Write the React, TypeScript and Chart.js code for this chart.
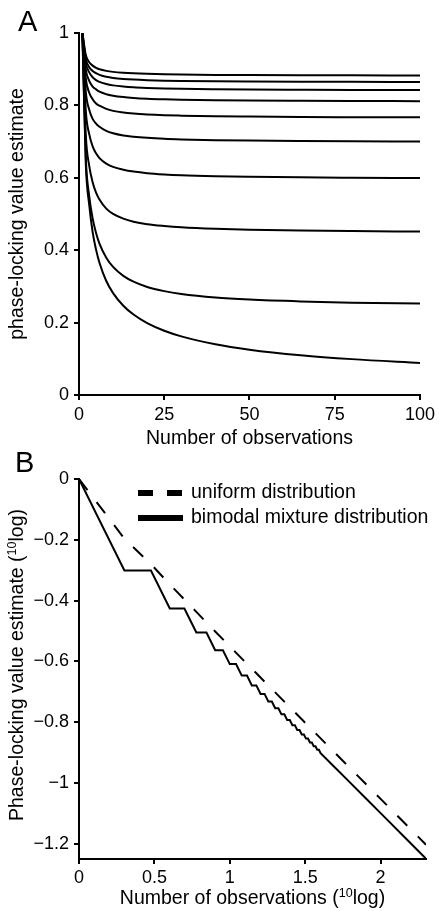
import React, { useEffect, useRef } from 'react';
import { Chart, registerables } from 'chart.js';

Chart.register(...registerables);

const FONT = '"Liberation Sans", Arial, Helvetica, sans-serif';

// ---------- Panel A: PLV estimate vs number of observations ----------
const nObs = [1, 2, 3, 4, 5, 6, 8, 10, 13, 16, 20, 25, 30, 40, 50, 65, 80, 100];
const plvK45 = [1, 0.939, 0.9194, 0.9099, 0.9037, 0.9, 0.8954, 0.8926, 0.8901, 0.8885, 0.8871, 0.886, 0.8853, 0.8843, 0.8838, 0.8833, 0.883, 0.8827];
const plvK40 = [1, 0.9286, 0.9054, 0.8953, 0.8891, 0.8842, 0.879, 0.8759, 0.8731, 0.8713, 0.8697, 0.8684, 0.8676, 0.8666, 0.866, 0.8654, 0.865, 0.8648];
const plvK35 = [1, 0.9166, 0.8914, 0.8777, 0.87, 0.8648, 0.8589, 0.8553, 0.852, 0.8499, 0.8482, 0.8467, 0.8457, 0.8446, 0.8439, 0.8433, 0.8428, 0.8425];
const plvK30 = [1, 0.899, 0.8679, 0.8522, 0.8442, 0.8378, 0.8309, 0.8267, 0.8229, 0.8205, 0.8184, 0.8168, 0.8157, 0.8143, 0.8134, 0.8127, 0.8122, 0.8117];
const plvK25 = [1, 0.8742, 0.8351, 0.8171, 0.805, 0.7992, 0.7904, 0.7849, 0.7802, 0.7774, 0.7749, 0.7729, 0.7717, 0.7699, 0.769, 0.768, 0.7675, 0.767];
const plvK20 = [1, 0.8374, 0.788, 0.7628, 0.7496, 0.741, 0.7297, 0.723, 0.7169, 0.7134, 0.7103, 0.7077, 0.7061, 0.704, 0.7027, 0.7016, 0.7009, 0.7003];
const plvK15 = [1, 0.7843, 0.7206, 0.687, 0.6676, 0.6544, 0.6392, 0.6301, 0.6224, 0.6173, 0.6128, 0.6094, 0.6071, 0.6044, 0.6028, 0.6012, 0.6003, 0.5994];
const plvK10 = [1, 0.7176, 0.633, 0.5876, 0.5588, 0.5399, 0.5147, 0.5001, 0.4871, 0.4788, 0.4719, 0.4669, 0.4633, 0.459, 0.4564, 0.4541, 0.4527, 0.4514];
const plvK05 = [1, 0.6545, 0.549, 0.4879, 0.4475, 0.4184, 0.3793, 0.3538, 0.3291, 0.313, 0.2984, 0.2869, 0.279, 0.2692, 0.2636, 0.2585, 0.2551, 0.2527];
const plvK00 = [1, 0.6366, 0.5249, 0.4498, 0.4016, 0.3655, 0.315, 0.2815, 0.2467, 0.2222, 0.1986, 0.1775, 0.162, 0.1401, 0.1253, 0.1099, 0.0991, 0.0886];
const seriesA = [plvK45, plvK40, plvK35, plvK30, plvK25, plvK20, plvK15, plvK10, plvK05, plvK00];

const xTicksA = [0, 25, 50, 75, 100];
const xTickLabelsA = ['0', '25', '50', '75', '100'];
const yTicksA = [0, 0.2, 0.4, 0.6, 0.8, 1];
const yTickLabelsA = ['0', '0.2', '0.4', '0.6', '0.8', '1'];
const xTitleA = 'Number of observations';
const yTitleA = 'phase-locking value estimate';

// ---------- Panel B: log-log ----------
const logNBimodal = [0, 0.30103, 0.47712, 0.60206, 0.69897, 0.77815, 0.8451, 0.90309, 0.95424, 1.0, 1.04139, 1.07918, 1.11394, 1.14613, 1.17609, 1.20412, 1.23045, 1.25527, 1.27875, 1.30103, 1.32222, 1.34242, 1.36173, 1.38021, 1.39794, 1.41497, 1.43136, 1.44716, 1.4624, 1.47712, 1.49136, 1.50515, 1.51851, 1.53148, 1.54407, 1.5563, 1.5682, 1.57978, 1.59106, 1.60206, 1.69897, 1.77815, 1.90309, 2.0, 2.17609, 2.30103];
const logPlvBimodal = [0, -0.30103, -0.30103, -0.42597, -0.42597, -0.50515, -0.50515, -0.56314, -0.56314, -0.6089, -0.6089, -0.6467, -0.6467, -0.67888, -0.67888, -0.70689, -0.70689, -0.73172, -0.73172, -0.754, -0.754, -0.7742, -0.7742, -0.79268, -0.79268, -0.80972, -0.80972, -0.8255, -0.8255, -0.84025, -0.84025, -0.85402, -0.85402, -0.867, -0.867, -0.87922, -0.87922, -0.89082, -0.89082, -0.90183, -0.9497, -0.98895, -1.05097, -1.09915, -1.18683, -1.24912];
const logNUniform = [0, 0.30103, 0.47712, 0.60206, 0.69897, 0.77815, 0.90309, 1.0, 1.17609, 1.30103, 1.47712, 1.69897, 2.0, 2.30103];
const logPlvUniform = [0, -0.19612, -0.27995, -0.34698, -0.39621, -0.43709, -0.50169, -0.55052, -0.63923, -0.70202, -0.79048, -0.9017, -1.05228, -1.20287];

const xTicksB = [0, 0.5, 1, 1.5, 2];
const xTickLabelsB = ['0', '0.5', '1', '1.5', '2'];
const yTicksB = [0, -0.2, -0.4, -0.6, -0.8, -1, -1.2];
const yTickLabelsB = ['0', '\u22120.2', '\u22120.4', '\u22120.6', '\u22120.8', '\u22121', '\u22121.2'];
// titles with a superscript part: [before, superscript, after]
const xTitleB = ['Number of observations (', '10', 'log)'];
const yTitleB = ['Phase-locking value estimate (', '10', 'log)'];
const legendLabelsB = ['uniform distribution', 'bimodal mixture distribution'];

function makeScale(
  min: number, max: number, ticks: number[], labels: string[], title: string,
  size: number, isX: boolean, tickPad: number, titlePad: any, showTitle = true
) {
  return {
    type: 'linear' as const,
    min,
    max,
    afterBuildTicks: (s: any) => { s.ticks = ticks.map((v) => ({ value: v })); },
    afterFit: (s: any) => { if (isX) s.height = size; else s.width = size; },
    ticks: {
      autoSkip: false,
      maxRotation: 0,
      minRotation: 0,
      padding: tickPad,
      color: '#000',
      font: { family: FONT, size: 18 },
      callback: (_v: any, i: number) => labels[i],
    },
    grid: { display: true, drawOnChartArea: false, drawTicks: true, tickLength: 5, color: '#000', lineWidth: 2 },
    border: { display: true, color: '#000', width: 2 },
    title: { display: showTitle, text: title, color: '#000', font: { family: FONT, size: 19.5 }, padding: titlePad },
  };
}

function drawSupText(ctx: CanvasRenderingContext2D, parts: string[], cx: number, cy: number) {
  const big = `19.5px ${FONT}`;
  const small = `12.5px ${FONT}`;
  ctx.font = big;
  const w0 = ctx.measureText(parts[0]).width;
  const w2 = ctx.measureText(parts[2]).width;
  ctx.font = small;
  const w1 = ctx.measureText(parts[1]).width;
  const total = w0 + w1 + w2;
  let x = cx - total / 2;
  ctx.textAlign = 'left';
  ctx.textBaseline = 'middle';
  ctx.font = big;
  ctx.fillText(parts[0], x, cy);
  x += w0;
  ctx.font = small;
  ctx.fillText(parts[1], x, cy - 5);
  x += w1;
  ctx.font = big;
  ctx.fillText(parts[2], x, cy);
}

const panelBTextPlugin = {
  id: 'panelBText',
  afterDraw(chart: any) {
    const ctx = chart.ctx as CanvasRenderingContext2D;
    const ds = chart.data.datasets;
    const area = chart.chartArea;
    ctx.save();
    ctx.fillStyle = '#000';
    // axis titles
    drawSupText(ctx, xTitleB, (area.left + area.right) / 2, chart.height - 12);
    ctx.save();
    ctx.translate(17.5, (area.top + area.bottom) / 2 - 4);
    ctx.rotate(-Math.PI / 2);
    drawSupText(ctx, yTitleB, 0, 0);
    ctx.restore();
    // legend
    ctx.strokeStyle = '#000';
    ctx.lineWidth = 6;
    ctx.lineCap = 'butt';
    ctx.setLineDash([15, 14]);
    ctx.beginPath(); ctx.moveTo(138, 53); ctx.lineTo(182, 53); ctx.stroke();
    ctx.setLineDash([]);
    ctx.beginPath(); ctx.moveTo(138, 78); ctx.lineTo(183, 78); ctx.stroke();
    ctx.font = `19.5px ${FONT}`;
    ctx.textBaseline = 'middle';
    ctx.textAlign = 'left';
    ctx.fillText(ds[0].label, 191, 53);
    ctx.fillText(ds[1].label, 191, 78);
    ctx.restore();
  },
};

export default function App() {
  const refA = useRef<HTMLCanvasElement>(null);
  const refB = useRef<HTMLCanvasElement>(null);

  useEffect(() => {
    document.body.style.margin = '0';
    const chartA = new Chart(refA.current!, {
      type: 'line',
      data: {
        datasets: seriesA.map((s, k) => ({
          label: 'curve ' + k,
          data: nObs.map((n, i) => ({ x: n, y: s[i] })),
          borderColor: '#000',
          borderWidth: 2,
          pointRadius: 0,
          fill: false,
          cubicInterpolationMode: 'monotone' as const,
        })),
      },
      options: {
        responsive: false,
        animation: false,
        devicePixelRatio: 1,
        layout: { padding: { top: 33, right: 15, left: 0, bottom: 0 } },
        plugins: { legend: { display: false }, tooltip: { enabled: false } },
        scales: {
          x: makeScale(0, 100, xTicksA, xTickLabelsA, xTitleA, 55, true, 4, { top: 0, bottom: 0 }),
          y: makeScale(0, 1, yTicksA, yTickLabelsA, yTitleA, 79, false, 5, { top: 6, bottom: 0 }),
        },
      },
    });

    const chartB = new Chart(refB.current!, {
      type: 'line',
      data: {
        datasets: [
          {
            label: legendLabelsB[0],
            data: logNUniform.map((x, i) => ({ x, y: logPlvUniform[i] })),
            borderColor: '#000',
            borderWidth: 2,
            borderDash: [14, 15],
            pointRadius: 0,
            fill: false,
            tension: 0,
          },
          {
            label: legendLabelsB[1],
            data: logNBimodal.map((x, i) => ({ x, y: logPlvBimodal[i] })),
            borderColor: '#000',
            borderWidth: 2,
            pointRadius: 0,
            fill: false,
            tension: 0,
          },
        ],
      },
      options: {
        responsive: false,
        animation: false,
        devicePixelRatio: 1,
        layout: { padding: { top: 39, right: 13, left: 0, bottom: 0 } },
        plugins: { legend: { display: false }, tooltip: { enabled: false } },
        scales: {
          x: makeScale(0, 2.30103, xTicksB, xTickLabelsB, xTitleB.join(''), 52, true, 3, { top: 0, bottom: 0 }, false),
          y: makeScale(-1.25, 0, yTicksB, yTickLabelsB, yTitleB.join(''), 79, false, 5, { top: 6, bottom: 0 }, false),
        },
      },
      plugins: [panelBTextPlugin],
    });

    return () => {
      chartA.destroy();
      chartB.destroy();
    };
  }, []);

  const letter: React.CSSProperties = {
    position: 'absolute',
    fontFamily: FONT,
    fontSize: 29,
    lineHeight: '29px',
    color: '#000',
  };

  return (
    <div style={{ position: 'absolute', left: 0, top: 0, width: 439, height: 911, background: '#fff' }}>
      <canvas ref={refA} width={439} height={450} style={{ position: 'absolute', left: 0, top: 0 }} />
      <canvas ref={refB} width={439} height={471} style={{ position: 'absolute', left: 0, top: 440 }} />
      <div style={{ ...letter, left: 18, top: 7 }}>A</div>
      <div style={{ ...letter, left: 15, top: 448 }}>B</div>
    </div>
  );
}
